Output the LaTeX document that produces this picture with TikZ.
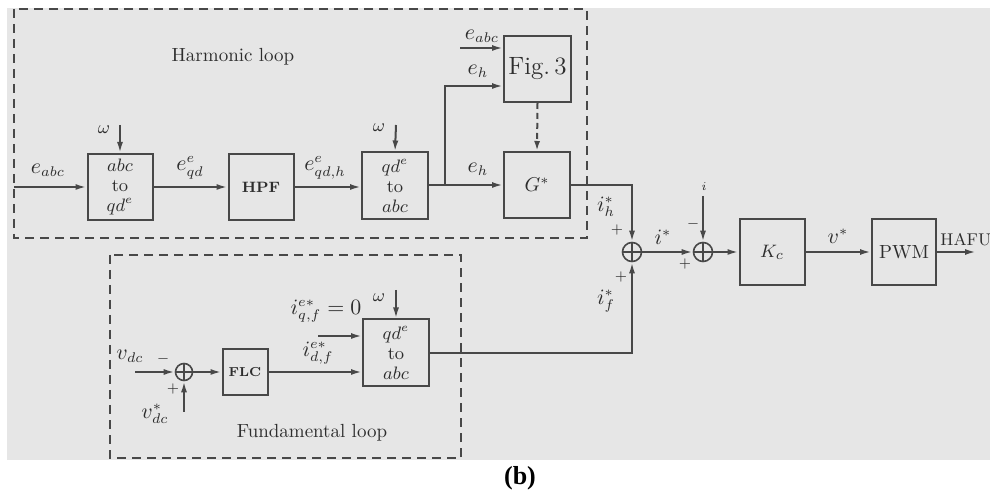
\documentclass[tikz,border=0pt]{standalone}
\usepackage{fontspec}
\newfontfamily\capfont{Liberation Serif}
\usetikzlibrary{arrows.meta,calc}
\definecolor{bg}{RGB}{230,230,230}
\definecolor{lc}{RGB}{72,72,72}
\definecolor{tc}{RGB}{45,45,45}
\tikzset{
 blk/.style={draw=lc,line width=1pt,inner sep=0pt,align=center,text=tc},
 sumc/.style={circle,draw=lc,line width=0.8pt,inner sep=0pt,minimum size=9.5pt,
   path picture={\draw[lc,line width=0.7pt] (path picture bounding box.north) -- (path picture bounding box.south)
     (path picture bounding box.west) -- (path picture bounding box.east);}},
 wire/.style={draw=lc,line width=1pt},
 arr/.style={wire,-{Latex[length=5.5pt,width=3pt]}},
 lbl/.style={text=tc,inner sep=0pt,font=\fontsize{10.5}{11}\selectfont},
 sgn/.style={text=tc,inner sep=0pt,font=\fontsize{7}{8}\selectfont},
 region/.style={draw=lc,line width=1pt,dash pattern=on 4.5pt off 3pt},
 ttl/.style={text=tc,inner sep=0pt,font=\fontsize{9.5}{11}\selectfont},
}
\begin{document}
\begin{tikzpicture}[x=0.5pt,y=-0.5pt]
\useasboundingbox (0,0) rectangle (990,496);
\fill[bg] (7,8) rectangle (990,460);

% regions
\draw[region] (14,9) rectangle (587,238);
\draw[region] (110,255) rectangle (461,458);
\node[ttl] (th) at (233,57) {Harmonic loop};
\node[ttl] (tf) at (312,433) {Fundamental loop};

% harmonic loop blocks
\node[blk,minimum width=32.5pt,minimum height=33pt,font=\fontsize{9}{10}\selectfont] (b1) at (120,187) {$abc$\\to\\$qd^e$};
\node[blk,minimum width=32.5pt,minimum height=33pt,font=\fontsize{7.5}{9}\selectfont\bfseries] (hpf) at (261,187) {HPF};
\node[blk,minimum width=33pt,minimum height=33.5pt,font=\fontsize{9}{10}\selectfont] (b3) at (395,186) {$qd^e$\\to\\$abc$};
\node[blk,minimum width=33.5pt,minimum height=33pt,font=\fontsize{12.5}{13}\selectfont] (fig) at (537.5,69) {Fig.\,3};
\node[blk,minimum width=33pt,minimum height=33pt,font=\fontsize{10}{11}\selectfont] (g) at (537,185) {$G^*$};

% main path
\node[sumc] (s1) at (632,252) {};
\node[sumc] (s2) at (703,252) {};
\node[blk,minimum width=32.5pt,minimum height=33pt,font=\fontsize{9.5}{11}\selectfont] (kc) at (772,252) {$K_c$};
\node[blk,minimum width=32pt,minimum height=33pt,font=\fontsize{9.5}{11}\selectfont] (pwm) at (904,252) {PWM};

% fundamental loop blocks
\node[sumc,minimum size=8.5pt] (s3) at (184,372) {};
\node[blk,minimum width=22.5pt,minimum height=23pt,font=\fontsize{6.5}{8}\selectfont\bfseries] (flc) at (245,372) {FLC};
\node[blk,minimum width=33pt,minimum height=33.5pt,font=\fontsize{9}{10}\selectfont] (b4) at (396,353) {$qd^e$\\to\\$abc$};

% coordinates for free ends
\coordinate (in1) at (14,187);
\coordinate (w1) at (120,125);
\coordinate (w3) at (396,125);
\coordinate (br) at (445,185);
\coordinate (eabc) at (460,48);
\coordinate (itop) at (703,196);
\coordinate (hout) at (976,252);
\coordinate (vin) at (135,372);
\coordinate (vref) at (184,412);
\coordinate (iq) at (318,336);
\coordinate (w4) at (396,290);

% harmonic connectors
\draw[arr] (in1) -- (b1.west);
\draw[arr] (w1) -- (b1.north);
\draw[arr] (b1.east) -- (hpf.west);
\draw[arr] (hpf.east) -- (hpf.east -| b3.west);
\draw[arr] (w3) -- (b3.north);
\draw[wire] (b3.east |- br) -- (br);
\draw[arr] (br) -- (g.west);
\draw[arr] (br) |- ([yshift=-8.5pt]fig.west);
\draw[arr] (eabc) -- ([yshift=10.5pt]fig.west);
\draw[wire,dash pattern=on 3pt off 2pt,-{Latex[length=5pt,width=3pt]}] (fig.south) -- (g.north);
\draw[arr] (g.east) -| (s1.north);

% main connectors
\draw[arr] (s1.east) -- (s2.west);
\draw[arr] (itop) -- (s2.north);
\draw[arr] (s2.east) -- (kc.west);
\draw[arr] (kc.east) -- (pwm.west);
\draw[wire,-{Latex[open,length=5.5pt,width=3pt]}] (pwm.east) -- (hout);

% fundamental connectors
\draw[arr] (vin) -- (s3.west);
\draw[arr] (vref) -- (s3.south);
\draw[arr] (s3.east) -- (flc.west);
\draw[arr] (flc.east) -- (flc.east -| b4.west);
\draw[arr] (iq) -- (iq -| b4.west);
\draw[arr] (w4) -- (b4.north);
\draw[arr] (b4.east) -| (s1.south);

% labels
\node[lbl] (l1) at (48,170) {$e_{abc}$};
\node[lbl,font=\fontsize{9}{10}\selectfont] (l2) at (104,130) {$\omega$};
\node[lbl] (l3) at (190,168) {$e^e_{qd}$};
\node[lbl] (l4) at (325,168) {$e^e_{qd,h}$};
\node[lbl,font=\fontsize{9}{10}\selectfont] (l5) at (379,128) {$\omega$};
\node[lbl] (l6) at (482,36) {$e_{abc}$};
\node[lbl] (l7) at (478,71) {$e_h$};
\node[lbl] (l8) at (478,169) {$e_h$};
\node[lbl] (l9) at (606,207) {$i^*_h$};
\node[sgn] (p1) at (617,230) {$+$};
\node[lbl] (l10) at (663,237) {$i^*$};
\node[sgn] (p2) at (685,264) {$+$};
\node[sgn] (m2) at (693,224) {$-$};
\node[lbl,font=\fontsize{6}{7}\selectfont] (l11) at (704,187) {$i$};
\node[lbl] (l12) at (838,236) {$v^*$};
\node[text=tc,inner sep=0pt,anchor=west,font=\fontsize{8.5}{10}\selectfont] (l13) at (940,240) {HAFU};
\node[lbl] (l14) at (606,301) {$i^*_f$};
\node[sgn] (p3) at (621,277) {$+$};

\node[lbl] (l15) at (130,356) {$v_{dc}$};
\node[sgn] (m3) at (163,359) {$-$};
\node[sgn] (p4) at (173,389) {$+$};
\node[lbl] (l16) at (155,414) {$v^*_{dc}$};
\node[lbl] (l17) at (326,311) {$i^{e*}_{q,f}=0$};
\node[lbl] (l18) at (318,353) {$i^{e*}_{d,f}$};
\node[lbl,font=\fontsize{9}{10}\selectfont] (l19) at (379,298) {$\omega$};

% caption
\node[inner sep=0pt,font=\capfont\bfseries\fontsize{13}{15}\selectfont] (cap) at (520,478) {(b)};
\end{tikzpicture}
\end{document}
